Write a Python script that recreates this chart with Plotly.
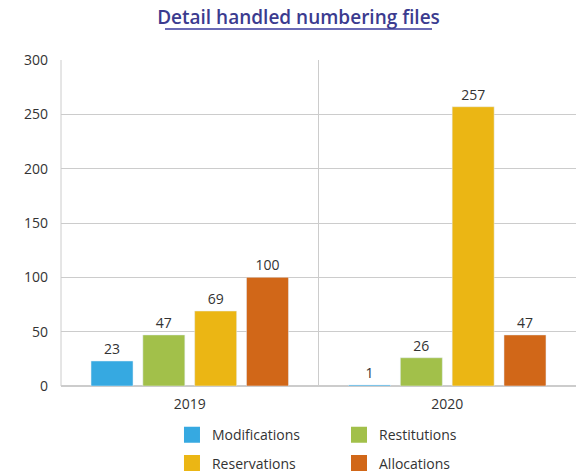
import plotly.graph_objects as go

years = ["2019", "2020"]
modifications = [23, 1]
restitutions = [47, 26]
reservations = [69, 257]
allocations = [100, 47]

series = [
    ("Modifications", modifications, "#36a9e1", "legend"),
    ("Restitutions", restitutions, "#a2c04a", "legend2"),
    ("Reservations", reservations, "#ebb614", "legend"),
    ("Allocations", allocations, "#d16718", "legend2"),
]

font = "Open Sans, Lato, sans-serif"
fig = go.Figure()

for name, vals, color, leg in series:
    fig.add_trace(
        go.Bar(
            x=years,
            y=vals,
            name=name,
            marker_color=color,
            text=vals,
            textposition="outside",
            textfont=dict(size=14, color="#333333"),
            cliponaxis=False,
            showlegend=False,
        )
    )
    # legend swatch
    fig.add_trace(
        go.Scatter(
            x=[None],
            y=[None],
            mode="markers",
            name=name,
            legend=leg,
            legendgroup=name,
            marker=dict(symbol="square", size=16, color=color),
        )
    )

legend_style = dict(
    orientation="v",
    yanchor="top",
    y=-0.102,
    font=dict(size=14, color="#333333", family=font),
    bgcolor="rgba(0,0,0,0)",
    tracegroupgap=7,
)

fig.update_layout(
    width=577,
    height=472,
    margin=dict(l=61, r=1, t=60, b=86, autoexpand=False),
    plot_bgcolor="white",
    paper_bgcolor="white",
    font=dict(family=font, size=14, color="#333333"),
    title=dict(
        text="Detail handled numbering files",
        x=298.5 / 577,
        xref="container",
        xanchor="center",
        y=1 - 17 / 472,
        yanchor="middle",
        font=dict(size=19, color="#3b3b8f", family=font, weight=600),
    ),
    barmode="group",
    bargap=0.195,
    bargroupgap=0.19,
    legend=dict(x=0.2155, xanchor="left", **legend_style),
    legend2=dict(x=0.5398, xanchor="left", **legend_style),
    xaxis=dict(
        type="category",
        showgrid=True,
        gridcolor="#cccccc",
        tickson="boundaries",
        ticks="",
        showline=False,
        ticklabelstandoff=8,
        tickfont=dict(size=14, color="#333333"),
    ),
    yaxis=dict(
        range=[0, 300],
        dtick=50,
        showgrid=True,
        gridcolor="#cccccc",
        zeroline=True,
        zerolinecolor="#cccccc",
        ticklabelstandoff=12,
        tickfont=dict(size=14, color="#333333"),
    ),
    shapes=[
        dict(
            type="line",
            xref="paper",
            yref="paper",
            x0=0.0,
            x1=0.0,
            y0=0,
            y1=1,
            line=dict(color="#cccccc", width=1),
        ),
        dict(
            type="line",
            xref="paper",
            yref="paper",
            x0=(165 - 61) / 515,
            x1=(432 - 61) / 515,
            y0=1 + (60 - 29) / 326,
            y1=1 + (60 - 29) / 326,
            line=dict(color="#6b6bb5", width=2),
        ),
    ],
)

fig.write_html(
    "out.html",
    config={"displayModeBar": False},
    post_script="document.body.style.margin='0';",
)
